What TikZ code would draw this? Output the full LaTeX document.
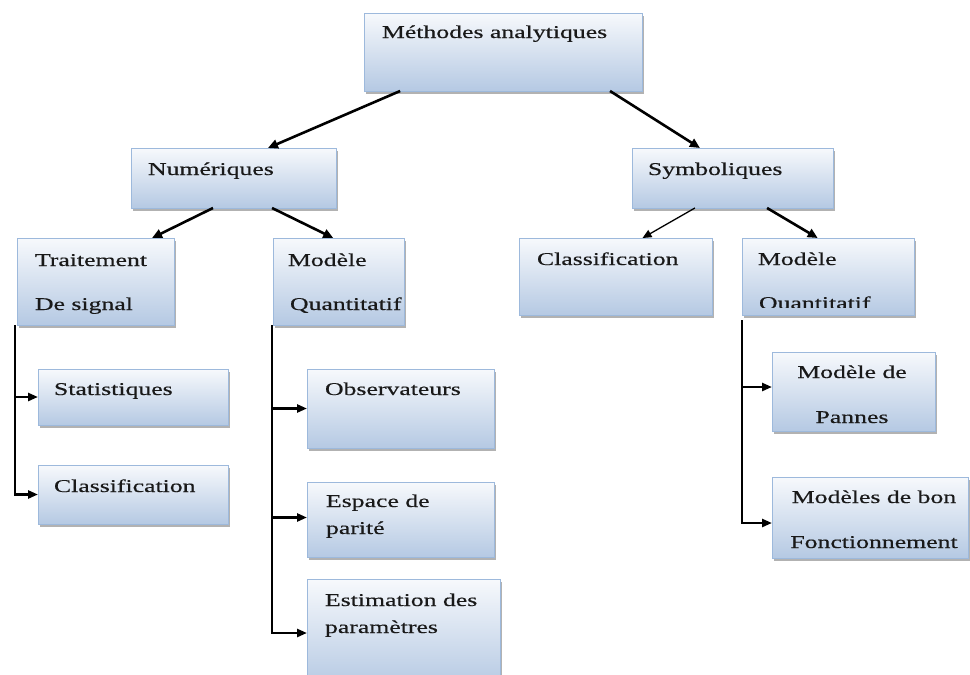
\documentclass[tikz,border=0pt]{standalone}
\usepackage{fontspec}
\setmainfont[FakeStretch=1.43,FakeBold=0.4]{Liberation Serif}
\usetikzlibrary{arrows.meta,shadows,calc}
\definecolor{boxedge}{HTML}{9DB9DC}
\definecolor{boxtop}{HTML}{F7F9FC}
\definecolor{boxbot}{HTML}{B5C9E3}
\tikzset{
  box/.style={draw=boxedge, line width=0.8pt, top color=boxtop, bottom color=boxbot,
    inner sep=0pt, outer sep=0pt, anchor=north west,
    drop shadow={shadow xshift=2pt, shadow yshift=-2.5pt, fill=black!55, opacity=0.55}},
  lbl/.style={anchor=base west, inner sep=0pt, outer sep=0pt, text=black!90,
    font=\fontsize{18}{22}\selectfont},
  clbl/.style={lbl, anchor=base},
  link/.style={line width=2.6pt, -{Triangle[length=10pt,width=9pt]}},
  thinlink/.style={line width=1.3pt, -{Triangle[length=9pt,width=8pt]}},
  trunk/.style={line width=2.6pt, -{Triangle[length=10pt,width=8pt]}},
}
\begin{document}
\begin{tikzpicture}[x=1pt,y=-1pt]
\clip (0,0) rectangle (970,675);
\fill[white] (0,0) rectangle (970,675);

% boxes
\node[box, minimum width=278pt, minimum height=78pt] (meth) at (364,13) {};
\node[box, minimum width=205pt, minimum height=60pt] (num) at (131,148) {};
\node[box, minimum width=201pt, minimum height=60pt] (sym) at (632,148) {};
\node[box, minimum width=157pt, minimum height=87pt] (trait) at (17,238) {};
\node[box, minimum width=131pt, minimum height=87pt] (mql) at (273,238) {};
\node[box, minimum width=193pt, minimum height=77pt] (clsr) at (519,238) {};
\node[box, minimum width=172pt, minimum height=77pt] (mqr) at (742,238) {};
\node[box, minimum width=190pt, minimum height=56pt] (stat) at (38,369) {};
\node[box, minimum width=190pt, minimum height=59pt] (clsl) at (38,465) {};
\node[box, minimum width=187pt, minimum height=79pt] (obs) at (307,369) {};
\node[box, minimum width=187pt, minimum height=75pt] (esp) at (307,482) {};
\node[box, minimum width=193pt, minimum height=108pt] (est) at (307,579) {};
\node[box, minimum width=163pt, minimum height=79pt] (pan) at (772,352) {};
\node[box, minimum width=196pt, minimum height=81pt] (bon) at (772,477) {};

% texts
\node[lbl] (t-meth) at (382,38) {Méthodes analytiques};
\node[lbl] (t-num) at (148,175) {Numériques};
\node[lbl] (t-sym) at (648,175) {Symboliques};
\node[lbl] (t-trait1) at (35,266) {Traitement};
\node[lbl] (t-trait2) at (35,310) {De signal};
\node[lbl] (t-mql1) at (288,266) {Modèle};
\node[lbl] (t-mql2) at (290,310) {Quantitatif};
\node[lbl] (t-clsr) at (537,265) {Classification};
\node[lbl] (t-mqr1) at (758,265) {Modèle};
\begin{scope}
  \clip (742,238) rectangle (914,307);
  \node[lbl] (t-mqr2) at (759,309) {Quantitatif};
\end{scope}
\node[lbl] (t-stat) at (54,395) {Statistiques};
\node[lbl] (t-clsl) at (54,492) {Classification};
\node[lbl] (t-obs) at (325,395) {Observateurs};
\node[lbl] (t-esp1) at (326,507) {Espace de};
\node[lbl] (t-esp2) at (326,534) {parité};
\node[lbl] (t-est1) at (325,606) {Estimation des};
\node[lbl] (t-est2) at (325,633) {paramètres};
\node[clbl] (t-pan1) at (852,378) {Modèle de};
\node[clbl] (t-pan2) at (852,423) {Pannes};
\node[clbl] (t-bon1) at (874,503) {Modèles de bon};
\node[clbl] (t-bon2) at (874,548) {Fonctionnement};

% tree connectors
\draw[link] ($(meth.south west)!0.13!(meth.south east)$) -- ($(num.north west)!0.668!(num.north east)$);
\draw[link] ($(meth.south west)!0.885!(meth.south east)$) -- ($(sym.north west)!0.338!(sym.north east)$);
\draw[link] ($(num.south west)!0.40!(num.south east)$) -- ($(trait.north west)!0.86!(trait.north east)$);
\draw[link] ($(num.south west)!0.688!(num.south east)$) -- ($(mql.north west)!0.46!(mql.north east)$);
\draw[thinlink] ($(sym.south west)!0.313!(sym.south east)$) -- ($(clsr.north west)!0.64!(clsr.north east)$);
\draw[link] ($(sym.south west)!0.672!(sym.south east)$) -- ($(mqr.north west)!0.44!(mqr.north east)$);

% branch trunks
\draw[trunk] ([xshift=-2pt]trait.south west) |- (stat.west);
\draw[trunk] ([xshift=-2pt]trait.south west) |- (clsl.west);
\draw[trunk] ([xshift=-1pt]mql.south west) |- (obs.west);
\draw[trunk] ([xshift=-1pt]mql.south west) |- ([yshift=2pt]esp.west);
\draw[trunk] ([xshift=-1pt]mql.south west) |- (est.west);
\draw[trunk] ([yshift=-5pt]mqr.south west) |- ([yshift=4.5pt]pan.west);
\draw[trunk] ([yshift=-5pt]mqr.south west) |- ([yshift=-5.5pt]bon.west);
\end{tikzpicture}
\end{document}
